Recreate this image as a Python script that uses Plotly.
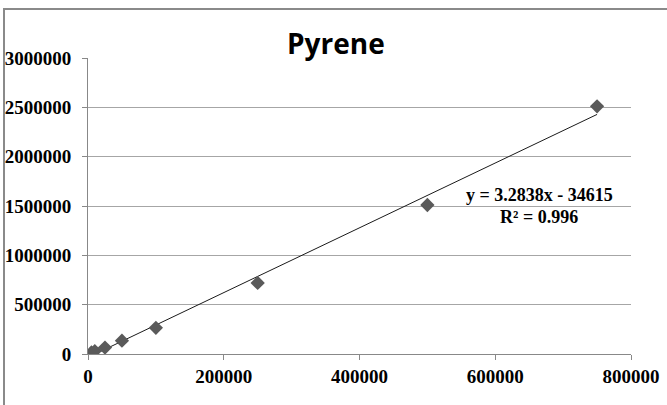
import plotly.graph_objects as go

# Pyrene calibration standards: concentration vs. detector response
concentration = [5000, 10000, 25000, 50000, 100000, 250000, 500000, 750000]
response = [15000, 30000, 65000, 135000, 265000, 720000, 1510000, 2510000]

# Linear fit reported for the calibration
slope = 3.2838
intercept = -34615
r_squared = 0.996

x_ticks = [0, 200000, 400000, 600000, 800000]
y_ticks = [0, 500000, 1000000, 1500000, 2000000, 2500000, 3000000]

fit_x = [min(concentration), max(concentration)]
fit_y = [slope * v + intercept for v in fit_x]

W, H = 667, 405
L, R, T, B = 88, 36, 58, 51
pw, ph = W - L - R, H - T - B


def px(xp):
    return (xp - L) / pw


def py(yp):
    return (H - B - yp) / ph


fig = go.Figure()
fig.add_trace(go.Scatter(
    x=fit_x, y=fit_y, mode="lines",
    line=dict(color="#1a1a1a", width=1),
    hoverinfo="skip", showlegend=False,
))
fig.add_trace(go.Scatter(
    x=concentration, y=response, mode="markers",
    marker=dict(symbol="diamond", size=11, color="#5a5a5a", line=dict(width=0)),
    showlegend=False,
))

tick_font = dict(family="Liberation Serif", size=19, color="#000000", weight="bold")

fig.update_xaxes(
    range=[0, 800000], tickvals=x_ticks, tickformat="d",
    showgrid=False, zeroline=False, automargin=False,
    showline=True, linecolor="#888888", linewidth=1,
    ticks="outside", ticklen=5, tickcolor="#888888",
    tickfont=tick_font, ticklabelstandoff=0,
)
fig.update_yaxes(
    range=[0, 3000000], tickvals=y_ticks, tickformat="d",
    showgrid=True, gridcolor="#a6a6a6", gridwidth=1, zeroline=False, automargin=False,
    showline=True, linecolor="#888888", linewidth=1,
    ticks="outside", ticklen=5, tickcolor="#888888",
    tickfont=tick_font, ticklabelstandoff=7,
)

eq_text = f"y = {slope}x - {abs(intercept)}"
r2_text = f"R² = {r_squared}"
ann_font = dict(family="Liberation Serif", size=18, color="#000000", weight="bold")

fig.add_annotation(x=px(539), y=py(195), xref="paper", yref="paper",
                   xanchor="center", yanchor="middle",
                   text=eq_text, showarrow=False, font=ann_font)
fig.add_annotation(x=px(539), y=py(217), xref="paper", yref="paper",
                   xanchor="center", yanchor="middle",
                   text=r2_text, showarrow=False, font=ann_font)
fig.add_annotation(x=px(336), y=py(43), xref="paper", yref="paper",
                   xanchor="center", yanchor="middle",
                   text="Pyrene", showarrow=False,
                   font=dict(family="Open Sans", size=28, color="#000000", weight="bold"))

# chart frame
fig.add_shape(type="rect", xref="paper", yref="paper",
              x0=px(4), x1=px(720), y0=py(480), y1=py(9),
              line=dict(color="#8a8a8a", width=2), fillcolor="rgba(0,0,0,0)",
              layer="below")

fig.update_layout(
    width=W, height=H,
    margin=dict(l=L, r=R, t=T, b=B),
    paper_bgcolor="white", plot_bgcolor="white",
    showlegend=False,
)

fig.write_html("out.html")
